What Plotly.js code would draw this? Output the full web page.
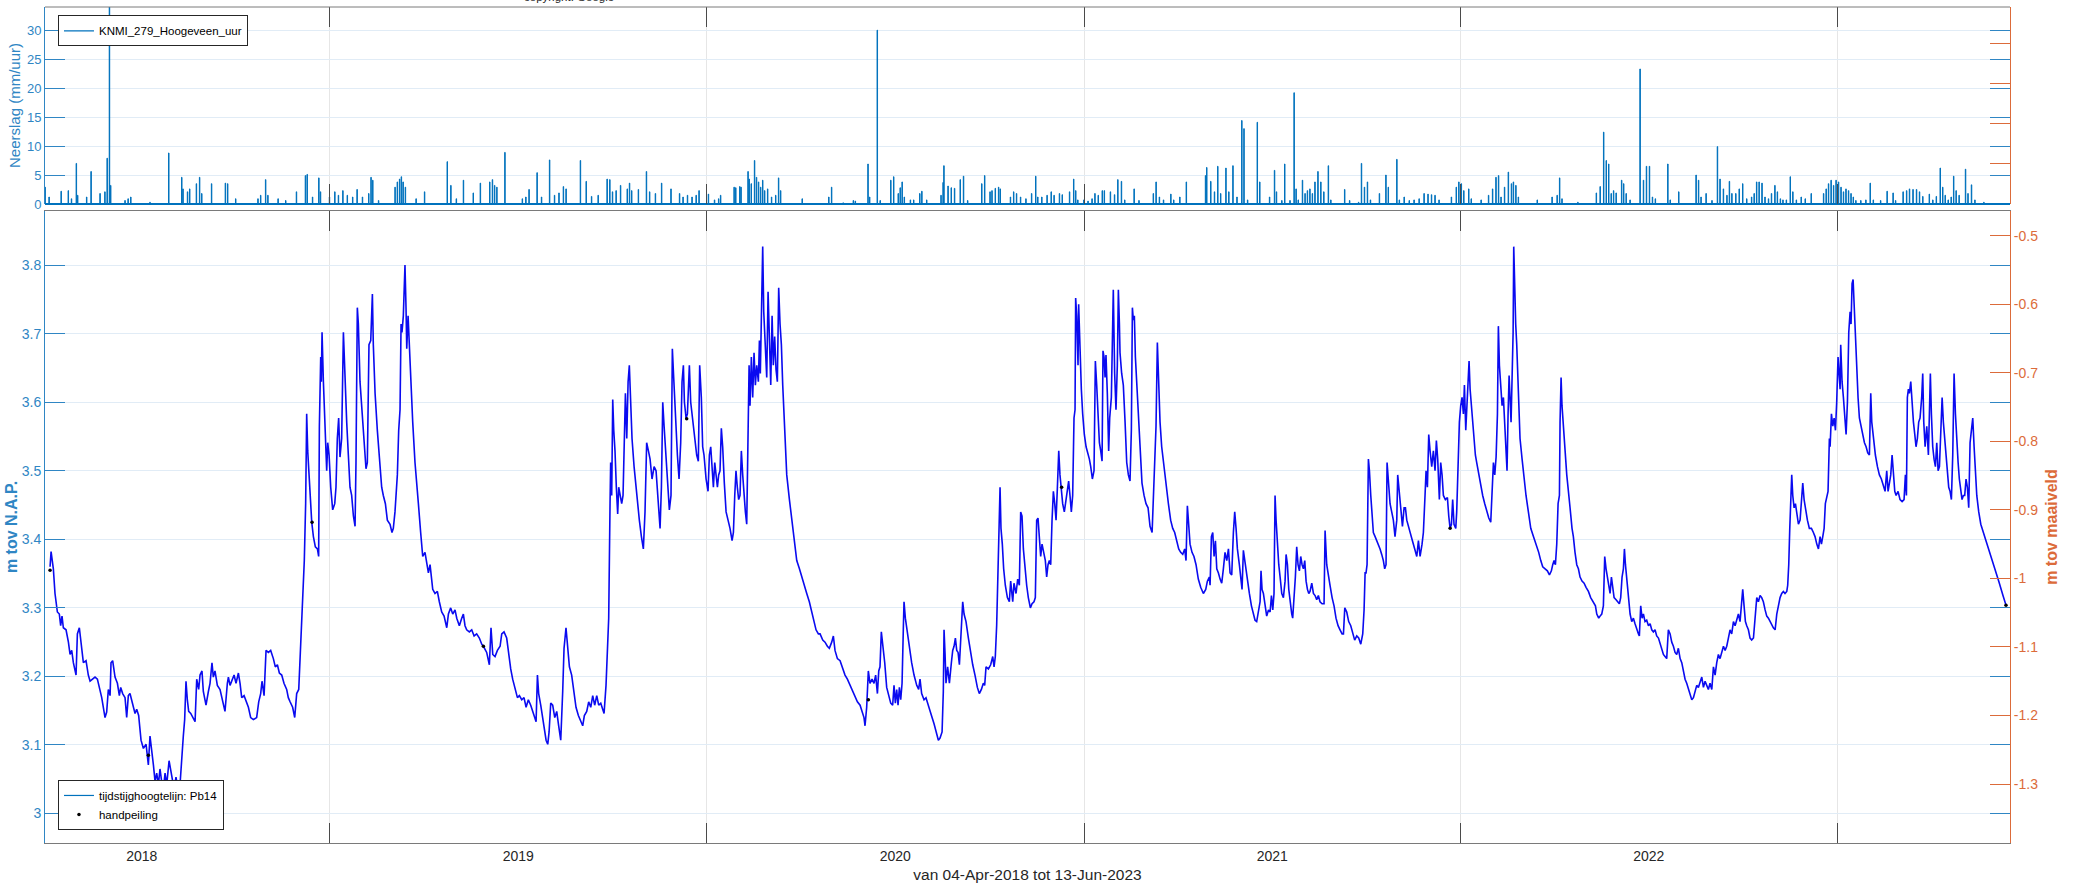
<!DOCTYPE html>
<html>
<head>
<meta charset="utf-8">
<script src="https://cdn.plot.ly/plotly-3.0.1.min.js"></script>
<style>
html,body{margin:0;padding:0;background:#ffffff;}
#chart{width:2078px;height:890px;}
</style>
</head>
<body>
<div id="chart"></div>
<script>
// ---------------- DATA ----------------
// days are counted from the series start date 04-Apr-2018
const seriesStart = '2018-04-04';
const seriesEndLabel = '13-Jun-2023';

// groundwater level (m tov N.A.P.)
const gwDayA = [0.6,1.6,3.8,5.4,7.7,9.6,10.9,12.2,13.5,16.1,
18.4,20.0,21.6,23.2,25.8,27.1,29.0,31.0,32.9,35.5,
37.7,39.4,42.0,44.2,46.5,48.4,50.7,53.9,55.5,57.1,
58.8,59.7,61.3,63.6,65.9,67.8,69.1,71.0,73.3,74.9,
76.5,78.1,80.7,83.0,84.6,86.5,88.8,91.1,93.7,95.9,
97.5,99.2,100.8,102.4,104.0,105.6,107.2,108.8,110.5,112.1,
113.7,116.0,118.5,120.8,122.7,125.0,126.6,128.2,129.8,131.1,
132.4,133.7,135.0,137.0,139.5,141.2,142.8,144.7,146.0,147.9,
149.2,151.8,154.1,155.7,157.6,158.9,160.5,162.8,165.4,168.0,
170.2,172.5,173.5,175.1,177.0,179.0,180.9,183.2,184.8,186.4,
188.7,190.6,192.9,195.1,197.7,200.9,202.9,204.8,206.1,208.1,
210.0,212.3,214.5,217.1,219.0,221.0,222.9,225.2,227.4,230.0,
231.6,233.3,235.8,237.8,239.7,241.7,242.9,244.2,245.5,247.1,
248.4,249.4,250.4,251.4,252.6,254.3,255.9,257.8,259.8,261.0,
261.7,263.0,263.6,264.3,265.6,267.2,268.8,269.8,271.1,272.7,
274.6,276.6,277.8,279.1,280.4,281.7,283.3,285.0,286.6,288.2,
289.8,291.4,293.0,294.7,296.3,297.2,298.5,299.5,301.1,302.7,
304.3,306.0,306.9,308.2,309.8,311.5,313.1,314.0,315.7,317.9,
319.9,322.1,323.7,325.7,327.6,330.2,332.1,333.4,335.0,336.0,
337.3,338.6,339.9,340.9,341.8,343.1,344.7,345.7,346.4,347.7,
348.9,350.2,352.2,354.4,356.0,357.7,359.9,361.9,364.1,365.7,
367.4];
const gwLevelA = [3.360,3.382,3.357,3.321,3.294,3.291,3.274,3.288,3.271,3.268,
3.250,3.232,3.238,3.220,3.202,3.262,3.271,3.244,3.220,3.223,
3.202,3.193,3.196,3.199,3.196,3.184,3.169,3.140,3.148,3.181,
3.172,3.220,3.223,3.199,3.190,3.172,3.184,3.175,3.169,3.140,
3.172,3.175,3.158,3.146,3.152,3.143,3.107,3.095,3.101,3.071,
3.113,3.095,3.071,3.047,3.059,3.042,3.065,3.047,3.036,3.059,
3.042,3.077,3.053,3.036,3.053,3.033,3.042,3.083,3.113,3.137,
3.193,3.166,3.149,3.146,3.140,3.134,3.196,3.181,3.202,3.208,
3.178,3.158,3.178,3.190,3.220,3.199,3.208,3.187,3.181,3.166,
3.149,3.190,3.199,3.187,3.196,3.202,3.190,3.205,3.190,3.169,
3.172,3.163,3.155,3.140,3.137,3.140,3.163,3.175,3.193,3.172,
3.238,3.235,3.238,3.226,3.214,3.217,3.205,3.202,3.190,3.181,
3.169,3.163,3.155,3.140,3.175,3.181,3.226,3.256,3.309,3.369,
3.452,3.583,3.529,3.500,3.455,3.425,3.404,3.389,3.386,3.375,
3.565,3.666,3.630,3.702,3.630,3.565,3.500,3.541,3.523,3.476,
3.443,3.452,3.476,3.547,3.577,3.520,3.547,3.702,3.630,3.571,
3.523,3.476,3.464,3.434,3.419,3.512,3.738,3.714,3.630,3.595,
3.547,3.523,3.503,3.512,3.684,3.690,3.758,3.684,3.613,3.559,
3.517,3.476,3.464,3.452,3.428,3.422,3.410,3.416,3.440,3.470,
3.494,3.559,3.589,3.714,3.702,3.726,3.800,3.738,3.678,3.726,
3.684,3.630,3.571,3.512,3.488,3.452,3.410,3.375,3.381,3.363,
3.351];

const gwDayB = [369.0,371.6,373.8,376.1,378.0,380.3,382.6,385.2,386.8,389.0,
391.0,393.2,394.9,397.4,399.7,401.3,402.9,404.5,407.1,409.4,
411.7,414.2,416.8,419.1,420.7,423.9,426.5,428.1,429.8,432.0,
434.3,436.9,438.5,440.7,443.3,445.3,447.2,449.1,451.4,453.7,
455.6,457.9,460.1,462.1,464.3,466.6,469.2,471.8,473.1,474.3,
476.3,478.2,479.8,481.5,483.1,484.4,486.0,487.9,489.9,491.8,
493.7,495.7,497.6,498.9,500.8,502.5,504.1,506.3,508.6,510.5,
512.8,515.1,517.0,518.6,520.9,522.8,524.8,526.7,528.6,530.6,
532.5,534.5,536.4,537.7,539.6,541.2,542.2,543.5,544.1,545.1,
546.1,547.1,548.3,549.6,550.9,551.9,553.2,554.8,556.1,557.4,
558.4,559.7,561.0,562.2,563.5,564.8,566.8,569.4,571.9,573.9,
575.8,577.4,579.0,580.7,582.3,584.2,586.2,588.1,590.0,592.0,
593.3,594.6,595.9,597.8,599.1,601.0,602.6,603.9,605.2,606.8,
608.8,610.4,612.0,613.3,614.6,615.6,617.2,618.5,619.4,620.4,
621.7,623.6,625.9,627.5,629.1,630.4,632.0,633.3,634.6,636.6,
638.5,639.8,641.1,642.4,643.7,645.0,646.3,647.6,648.8,650.1,
651.4,652.7,654.3,656.0,657.9,659.8,661.8,663.1,664.4,665.6,
666.9,668.2,669.5,670.8,672.1,673.4,674.7,676.0,677.0,678.3,
679.2,680.5,681.8,683.1,684.4,685.7,687.3,688.3,689.2,690.5,
691.5,692.5,693.8,695.4,696.7,698.0,699.3,700.6,701.8,703.1,
704.4,705.7,707.0,708.3,709.6,710.9,712.8,714.8,717.4,719.6,
721.9,724.5,727.1,729.3,731.6,734.2,736.7,739.0,741.3,743.2,
745.5];
const gwLevelB = [3.363,3.327,3.321,3.324,3.309,3.294,3.288,3.271,3.291,3.300,
3.291,3.297,3.285,3.274,3.285,3.291,3.274,3.268,3.265,3.268,
3.259,3.262,3.256,3.247,3.244,3.235,3.217,3.271,3.232,3.229,
3.238,3.244,3.262,3.265,3.256,3.232,3.211,3.196,3.184,3.169,
3.172,3.166,3.169,3.155,3.166,3.158,3.146,3.134,3.202,3.175,
3.158,3.137,3.119,3.107,3.101,3.119,3.161,3.158,3.140,3.149,
3.128,3.107,3.178,3.241,3.271,3.244,3.214,3.202,3.178,3.155,
3.143,3.134,3.128,3.143,3.149,3.163,3.155,3.172,3.158,3.172,
3.158,3.161,3.152,3.146,3.187,3.238,3.285,3.452,3.512,3.464,
3.604,3.559,3.529,3.476,3.437,3.476,3.464,3.452,3.464,3.547,
3.613,3.547,3.630,3.654,3.595,3.547,3.506,3.464,3.428,3.404,
3.386,3.440,3.541,3.529,3.517,3.488,3.506,3.500,3.464,3.416,
3.476,3.600,3.565,3.517,3.476,3.443,3.464,3.678,3.636,3.577,
3.523,3.488,3.541,3.630,3.654,3.600,3.577,3.583,3.619,3.654,
3.600,3.577,3.547,3.523,3.514,3.654,3.607,3.535,3.523,3.488,
3.470,3.523,3.535,3.500,3.476,3.512,3.494,3.476,3.494,3.500,
3.562,3.535,3.482,3.440,3.428,3.416,3.398,3.410,3.464,3.500,
3.476,3.458,3.464,3.529,3.494,3.458,3.440,3.422,3.523,3.654,
3.595,3.666,3.607,3.672,3.625,3.654,3.630,3.690,3.642,3.735,
3.827,3.732,3.684,3.636,3.761,3.672,3.625,3.726,3.654,3.696,
3.648,3.630,3.767,3.714,3.684,3.625,3.553,3.494,3.458,3.428,
3.398,3.369,3.357,3.345,3.333,3.321,3.309,3.294,3.280,3.268,
3.262];

const gwDayC = [747.1,749.7,751.9,754.2,756.1,758.4,760.0,761.6,763.9,766.5,
769.0,771.3,773.6,776.2,778.7,781.0,783.3,785.9,787.8,789.7,
790.7,792.3,793.9,795.5,797.5,799.4,801.0,802.7,804.0,805.2,
806.5,807.8,809.8,811.7,813.6,815.6,817.5,818.8,820.1,821.4,
822.7,824.0,825.3,826.6,827.9,828.5,829.8,831.7,833.7,835.9,
838.2,840.8,842.7,844.0,845.6,847.9,849.8,851.8,853.7,855.7,
857.6,859.5,861.8,863.4,865.4,866.6,867.3,868.3,869.2,870.8,
872.5,874.4,875.7,877.0,878.3,879.6,880.9,882.2,883.4,884.7,
885.4,886.7,888.6,890.9,893.1,895.1,897.3,899.6,901.5,903.5,
905.4,906.7,908.0,910.3,912.5,914.5,915.8,917.0,918.3,919.3,
920.6,921.6,922.5,923.8,925.1,926.7,928.7,930.6,931.9,933.9,
935.1,937.1,938.7,940.3,941.6,942.9,944.2,945.8,947.4,949.0,
951.0,952.6,954.5,955.8,957.1,958.4,959.7,961.0,962.3,964.2,
965.5,966.8,968.1,969.4,970.7,972.0,973.3,974.6,975.9,977.2,
978.5,979.7,981.0,982.3,983.9,985.6,986.8,988.1,989.4,990.7,
992.0,993.3,994.3,994.9,995.9,997.2,997.8,998.5,999.5,1000.4,
1001.7,1003.3,1005.0,1006.2,1008.2,1009.5,1011.1,1012.7,1014.0,1015.3,
1016.6,1017.9,1019.2,1020.5,1021.4,1022.4,1023.4,1024.3,1025.6,1026.9,
1027.9,1029.5,1030.8,1031.4,1032.7,1034.0,1035.3,1036.3,1037.3,1037.9,
1039.5,1041.1,1042.8,1044.4,1046.0,1047.6,1048.9,1049.9,1050.8,1051.8,
1052.8,1054.1,1055.7,1057.3,1059.2,1061.2,1063.1,1065.1,1067.0,1069.0,
1070.2,1071.5,1072.8,1074.1,1075.4,1076.7,1078.3,1080.0,1081.6,1083.2,
1084.8,1087.0,1089.0,1090.9,1092.9,1094.8,1096.7,1098.7,1100.6,1101.9,
1103.2,1104.5,1105.8,1107.7,1109.6,1111.6,1113.8,1116.1,1118.7,1121.0,
1122.6,1124.5];
const gwLevelC = [3.262,3.253,3.250,3.244,3.241,3.250,3.259,3.238,3.226,3.223,
3.211,3.202,3.196,3.187,3.178,3.172,3.163,3.158,3.149,3.140,
3.128,3.155,3.208,3.190,3.196,3.190,3.202,3.175,3.208,3.214,
3.265,3.250,3.220,3.184,3.172,3.161,3.158,3.187,3.161,3.181,
3.158,3.184,3.166,3.190,3.274,3.309,3.285,3.262,3.244,3.220,
3.202,3.187,3.181,3.196,3.175,3.166,3.169,3.158,3.149,3.140,
3.131,3.119,3.107,3.110,3.119,3.178,3.268,3.232,3.190,3.214,
3.190,3.220,3.238,3.244,3.256,3.238,3.235,3.217,3.250,3.294,
3.309,3.291,3.280,3.256,3.232,3.217,3.202,3.184,3.175,3.181,
3.190,3.187,3.214,3.211,3.217,3.229,3.214,3.229,3.274,3.333,
3.393,3.476,3.416,3.393,3.357,3.333,3.315,3.309,3.339,3.309,
3.336,3.321,3.342,3.333,3.440,3.434,3.386,3.357,3.333,3.315,
3.300,3.306,3.309,3.315,3.428,3.431,3.404,3.375,3.393,3.381,
3.369,3.345,3.363,3.369,3.363,3.428,3.470,3.452,3.428,3.476,
3.529,3.494,3.470,3.452,3.440,3.458,3.464,3.485,3.464,3.440,
3.464,3.577,3.589,3.752,3.726,3.654,3.743,3.702,3.654,3.619,
3.583,3.553,3.535,3.529,3.517,3.506,3.488,3.500,3.660,3.625,
3.583,3.541,3.529,3.514,3.675,3.666,3.636,3.669,3.613,3.529,
3.577,3.607,3.714,3.764,3.642,3.589,3.654,3.764,3.714,3.672,
3.642,3.625,3.571,3.512,3.494,3.485,3.559,3.738,3.720,3.726,
3.666,3.625,3.583,3.535,3.482,3.464,3.452,3.446,3.419,3.410,
3.464,3.512,3.565,3.687,3.630,3.571,3.535,3.512,3.500,3.476,
3.452,3.428,3.416,3.410,3.398,3.386,3.381,3.378,3.386,3.369,
3.449,3.422,3.393,3.381,3.375,3.363,3.342,3.330,3.321,3.327,
3.339,3.345];

const gwDayD = [1125.2,1126.5,1127.8,1129.1,1130.4,1131.7,1133.3,1134.9,1136.5,1138.1,
1139.7,1141.4,1143.0,1144.6,1146.2,1147.8,1149.1,1150.4,1151.7,1153.6,
1154.9,1156.2,1157.5,1158.8,1160.1,1161.4,1163.3,1165.3,1167.2,1168.8,
1170.4,1172.1,1173.7,1174.6,1175.6,1176.9,1178.5,1180.1,1181.8,1183.4,
1184.7,1186.0,1187.2,1188.2,1189.2,1190.5,1191.8,1193.1,1194.7,1196.3,
1197.9,1198.9,1200.2,1201.5,1202.8,1204.4,1205.3,1206.6,1207.9,1209.2,
1210.5,1211.8,1213.1,1214.4,1215.7,1217.0,1218.3,1219.6,1220.9,1222.1,
1223.8,1225.4,1227.0,1228.6,1230.2,1231.8,1233.8,1235.7,1236.7,1238.3,
1239.9,1241.5,1243.5,1245.4,1247.3,1249.3,1251.2,1253.2,1254.5,1255.8,
1257.7,1259.6,1261.6,1263.5,1265.4,1267.4,1269.3,1271.3,1273.2,1274.5,
1275.5,1276.4,1277.4,1278.7,1279.7,1281.0,1282.3,1283.5,1285.2,1286.8,
1288.4,1290.0,1291.6,1293.2,1294.5,1295.8,1296.8,1298.1,1299.7,1301.3,
1302.9,1304.5,1306.2,1307.1,1308.4,1310.0,1311.7,1313.3,1314.6,1315.9,
1317.8,1319.7,1321.7,1323.6,1325.6,1327.2,1328.8,1330.7,1332.0,1333.6,
1334.6,1335.9,1337.2,1338.5,1340.1,1341.7,1343.3,1344.6,1345.9,1347.5,
1348.8,1350.1,1351.4,1353.3,1355.3,1356.6,1357.9,1359.2,1360.4,1361.7,
1363.4,1364.3,1365.6,1366.9,1368.2,1369.5,1370.8,1371.8,1373.1,1374.0,
1375.3,1376.3,1377.3,1378.5,1379.8,1381.1,1382.4,1383.7,1385.7,1387.6,
1389.5,1391.5,1393.4,1395.4,1397.3,1398.6,1399.9,1401.2,1402.5,1403.8,
1404.7,1405.7,1407.0,1408.3,1409.6,1410.9,1412.2,1413.1,1414.1,1415.1,
1416.0,1417.0,1418.0,1419.0,1419.6,1420.6,1421.5,1422.5,1424.1,1425.7,
1427.7,1429.6,1431.5,1433.8,1436.1,1438.7,1441.2,1443.8,1445.8,1447.7,
1450.0,1452.2,1454.2,1456.1,1457.4,1458.7,1460.0,1461.3,1462.6,1463.9,
1464.5,1465.5,1466.4,1467.7,1469.4,1471.0,1472.6,1474.2,1476.1,1477.4,
1479.0,1480.7,1482.3,1483.9,1485.8,1487.8,1489.7,1492.0,1494.2,1496.8,
1498.8,1500.1,1502.0];
const gwLevelD = [3.333,3.404,3.410,3.375,3.398,3.357,3.351,3.342,3.336,3.357,
3.381,3.369,3.386,3.351,3.348,3.410,3.440,3.416,3.386,3.363,
3.345,3.327,3.384,3.369,3.357,3.339,3.321,3.303,3.291,3.282,
3.280,3.297,3.309,3.354,3.327,3.321,3.303,3.288,3.297,3.294,
3.318,3.297,3.321,3.464,3.428,3.393,3.363,3.345,3.321,3.315,
3.339,3.378,3.363,3.327,3.309,3.291,3.285,3.309,3.345,3.389,
3.363,3.354,3.375,3.363,3.357,3.369,3.339,3.327,3.321,3.324,
3.336,3.321,3.318,3.312,3.318,3.309,3.306,3.306,3.413,3.363,
3.345,3.333,3.315,3.303,3.285,3.274,3.268,3.262,3.262,3.300,
3.294,3.280,3.274,3.262,3.253,3.259,3.256,3.247,3.262,3.297,
3.351,3.351,3.363,3.517,3.500,3.464,3.428,3.410,3.404,3.398,
3.393,3.386,3.378,3.369,3.357,3.363,3.512,3.488,3.452,3.440,
3.428,3.404,3.428,3.494,3.470,3.452,3.419,3.446,3.446,3.428,
3.416,3.404,3.396,3.386,3.375,3.398,3.375,3.393,3.410,3.464,
3.500,3.476,3.553,3.529,3.506,3.529,3.500,3.544,3.517,3.458,
3.512,3.494,3.464,3.458,3.461,3.434,3.416,3.422,3.458,3.422,
3.416,3.440,3.523,3.571,3.595,3.607,3.583,3.625,3.559,3.589,
3.619,3.660,3.619,3.595,3.571,3.547,3.523,3.512,3.494,3.482,
3.464,3.452,3.440,3.431,3.425,3.464,3.512,3.494,3.520,3.583,
3.711,3.654,3.619,3.595,3.607,3.565,3.535,3.500,3.583,3.639,
3.607,3.571,3.636,3.702,3.827,3.761,3.714,3.684,3.613,3.547,
3.517,3.488,3.464,3.440,3.416,3.404,3.393,3.381,3.369,3.360,
3.357,3.354,3.348,3.354,3.363,3.369,3.363,3.393,3.452,3.464,
3.571,3.636,3.595,3.571,3.529,3.494,3.464,3.446,3.416,3.404,
3.381,3.363,3.357,3.345,3.339,3.336,3.330,3.324,3.315,3.309,
3.303,3.291,3.285];

const gwDayE = [1503.3,1504.9,1506.5,1507.8,1509.1,1510.4,1511.7,1513.0,1514.3,1515.6,
1516.9,1518.8,1520.8,1522.0,1523.3,1524.6,1525.9,1526.9,1527.9,1529.2,
1530.8,1532.4,1534.0,1535.6,1537.2,1538.8,1540.5,1541.4,1542.7,1544.0,
1545.3,1546.9,1548.5,1550.2,1551.8,1553.4,1555.0,1556.6,1558.2,1559.9,
1561.5,1563.1,1564.7,1566.3,1567.9,1569.5,1571.2,1572.8,1574.4,1576.0,
1577.6,1579.2,1580.9,1582.5,1584.1,1585.7,1587.3,1588.9,1590.6,1592.2,
1593.8,1595.4,1597.0,1598.6,1600.2,1601.9,1603.5,1605.1,1606.7,1608.3,
1609.9,1611.6,1613.2,1614.8,1616.4,1618.0,1619.6,1621.2,1622.9,1624.5,
1626.1,1627.7,1629.3,1630.9,1632.6,1634.2,1635.8,1637.4,1639.0,1640.6,
1641.6,1642.9,1644.2,1645.5,1647.1,1648.7,1650.3,1652.0,1653.6,1655.2,
1656.8,1658.4,1660.0,1661.6,1663.3,1664.9,1666.5,1668.1,1669.7,1671.3,
1673.0,1674.6,1676.2,1677.8,1679.4,1681.0,1682.6,1684.3,1685.2,1686.2,
1687.2,1688.1,1689.1,1690.1,1691.4,1692.7,1694.0,1695.6,1697.2,1698.5,
1699.8,1701.1,1702.7,1704.3,1706.2,1708.2,1710.1,1711.7,1713.4,1715.0,
1716.6,1717.9,1719.2,1720.5,1721.7,1723.0,1724.3,1725.6,1726.3,1727.6,
1728.9,1730.2,1731.5,1732.7,1734.0,1735.0,1736.0,1736.6,1737.9,1739.2,
1740.5,1741.8,1743.1,1744.4,1745.7,1746.6,1747.6,1748.6,1749.6,1750.8,
1752.1,1753.4,1754.7,1756.3,1757.9,1759.6,1761.2,1762.8,1764.4,1765.7,
1766.7,1768.3,1770.2,1772.2,1774.1,1776.0,1778.0,1779.6,1781.2,1782.5,
1783.8,1785.1,1786.4,1787.7,1789.0,1790.3,1792.2,1794.1,1796.1,1798.0,
1799.3,1800.3,1801.2,1802.2,1803.2,1804.5,1805.8,1807.1,1808.4,1809.6,
1810.9,1812.2,1813.5,1815.1,1816.1,1817.1,1818.4,1820.0,1821.6,1822.6,
1823.5,1824.5,1825.8,1827.1,1828.4,1829.7,1831.0,1832.3,1833.6,1834.9,
1836.1,1837.4,1838.7,1840.0,1841.3,1842.6,1843.9,1845.2,1846.5,1847.8,
1849.1,1850.4,1851.6,1852.9,1854.2,1855.5,1856.8,1858.1,1859.4,1860.7,
1862.0,1863.3,1864.6,1865.9,1867.2,1868.5,1870.4,1872.4,1874.9,1877.5,
1880.1,1882.7,1885.3,1887.8,1889.8,1893.9,1896.8];
const gwLevelE = [3.288,3.291,3.303,3.375,3.357,3.345,3.327,3.321,3.345,3.327,
3.315,3.312,3.309,3.306,3.315,3.345,3.357,3.386,3.363,3.345,
3.315,3.291,3.280,3.285,3.277,3.268,3.262,3.259,3.303,3.285,
3.291,3.280,3.282,3.274,3.277,3.268,3.265,3.268,3.259,3.256,
3.247,3.238,3.232,3.229,3.226,3.268,3.262,3.250,3.244,3.235,
3.232,3.241,3.226,3.220,3.208,3.196,3.190,3.181,3.175,3.166,
3.169,3.178,3.187,3.184,3.190,3.199,3.184,3.193,3.187,3.181,
3.190,3.181,3.214,3.202,3.220,3.232,3.226,3.235,3.244,3.238,
3.244,3.256,3.268,3.262,3.280,3.274,3.285,3.291,3.280,3.303,
3.327,3.303,3.280,3.274,3.268,3.256,3.253,3.256,3.291,3.315,
3.309,3.318,3.315,3.309,3.297,3.288,3.285,3.280,3.274,3.271,
3.268,3.291,3.303,3.315,3.321,3.324,3.321,3.324,3.333,3.363,
3.416,3.464,3.494,3.464,3.446,3.452,3.440,3.422,3.428,3.464,
3.482,3.458,3.440,3.428,3.416,3.416,3.410,3.404,3.393,3.386,
3.404,3.393,3.404,3.416,3.452,3.464,3.470,3.547,3.535,3.583,
3.565,3.577,3.559,3.600,3.666,3.642,3.619,3.684,3.630,3.607,
3.583,3.553,3.600,3.702,3.732,3.714,3.773,3.779,3.743,3.690,
3.642,3.607,3.577,3.565,3.556,3.541,3.535,3.526,3.523,3.613,
3.571,3.547,3.523,3.506,3.494,3.488,3.476,3.470,3.500,3.470,
3.482,3.494,3.523,3.494,3.470,3.464,3.470,3.458,3.455,3.458,
3.494,3.464,3.607,3.619,3.613,3.630,3.595,3.571,3.553,3.535,
3.547,3.571,3.577,3.607,3.642,3.571,3.535,3.565,3.523,3.595,
3.642,3.583,3.535,3.517,3.506,3.541,3.500,3.506,3.547,3.607,
3.571,3.547,3.523,3.500,3.476,3.470,3.458,3.523,3.642,3.583,
3.535,3.512,3.488,3.470,3.458,3.464,3.464,3.488,3.476,3.446,
3.541,3.559,3.577,3.535,3.494,3.464,3.440,3.422,3.410,3.398,
3.386,3.375,3.363,3.351,3.339,3.318,3.304];

// hand measurements (handpeiling)
const hpDay = [0.6, 95.9, 254.6, 420.7, 617.8, 793.9, 981.3, 1357.9, 1896.8];
const hpLevel = [3.355, 3.085, 3.425, 3.244, 3.576, 3.166, 3.476, 3.416, 3.304];

// hourly precipitation KNMI 279 Hoogeveen (mm/uur), showers
const rainDayA = [-4.2,-0.3,11.4,18.3,21.4,26.1,27.4,36.1,40.4,49.1,
53.8,56.0,58.2,59.4,73.3,76.3,78.9,97.5,115.7,128.3,
129.5,133.9,136.0,142.5,145.6,147.7,157.2,170.6,172.8,180.6,
202.2,204.8,209.6,211.8,221.7,229.1,239.5,248.2,249.9,255.1,
261.2,262.8,271.5,276.7,280.2,284.5,288.8,294.0,298.3,303.5,
309.6,311.8,313.5,319.1,335.1,337.3,339.5,341.2,342.9,345.1,
355.5,363.7,385.7,389.2,394.5,401.4,410.9,417.8,426.9,429.5,
431.6,433.8,441.6,458.5,461.9,465.0,472.8,477.1,484.9,489.7,
494.0,498.3,500.9,514.8,520.4,525.6,532.0,540.7,543.3,545.9,
549.4,553.7,560.2,562.4,564.5,571.0,578.8,581.9,587.5,593.5,
602.6,610.9,614.3,618.6];
const rainMmA = [2.9,1.2,2.2,2.3,0.9,7.0,1.5,1.2,5.6,1.8,
2.1,7.9,36,3.2,0.6,0.9,1.2,0.3,8.8,4.6,
2.6,2.1,2.6,3.5,4.6,1.8,3.5,3.6,3.5,0.9,
0.9,1.5,4.2,1.5,0.9,0.6,2.1,4.9,5.1,1.2,
4.5,2.1,1.2,2.1,1.5,2.3,1.5,1.2,2.5,1.2,
1.8,4.6,4.1,0.6,2.9,3.8,4.3,4.7,3.8,2.9,
0.9,2.1,7.3,3.2,0.9,4.1,1.9,3.6,3.8,4.2,
3.2,2.9,8.9,0.9,1.2,2.5,5.4,1.2,7.6,1.5,
1.9,3.0,2.6,7.5,3.9,1.3,1.5,4.3,4.2,2.1,
2.3,3.2,2.6,3.6,2.3,2.5,5.6,2.1,1.8,3.6,
2.6,1.8,1.2,1.5];
const rainDayB = [623.0,627.0,629.8,638.9,644.8,648.8,650.7,663.8,665.4,669.3,
670.5,677.3,678.4,680.4,683.6,685.5,687.5,689.5,691.5,693.4,
696.3,700.1,704.1,706.9,708.9,729.8,755.6,758.3,769.5,779.4,
781.3,793.6,795.2,802.6,805.4,815.7,818.5,822.9,824.8,826.7,
828.8,834.7,837.9,843.8,845.8,850.5,864.4,866.4,867.2,871.2,
874.3,877.5,883.0,886.2,890.2,903.9,906.7,911.9,913.8,917.0,
920.2,921.8,931.7,934.8,937.6,941.5,946.7,952.2,956.2,958.2,
962.1,967.2,971.2,974.0,979.2,981.9,989.0,993.0,995.0,997.0,
1002.9,1006.9,1010.8,1013.6,1016.8,1020.7,1022.7,1028.6,1032.6,1035.8,
1039.3,1042.5,1051.6,1056.3,1070.2,1072.9,1076.1,1080.1,1087.2,1090.0,
1095.9,1102.2,1120.8,1122.0,1125.9,1129.5,1132.7,1135.5,1140.6,1143.4,
1147.4,1151.3,1156.0,1158.1,1161.6,1171.0,1173.4,1182.9,1187.7,1189.6,
1194.8,1197.6,1202.7,1206.7,1208.6,1210.7];
const rainMmB = [1.2,1.5,2.3,1.7,0.7,0.9,1.5,2.9,2.8,3.0,
2.9,5.6,4.3,3.5,7.5,4.6,3.8,2.9,4.1,2.3,
2.6,1.2,1.5,4.5,2.3,0.9,1.2,2.9,0.2,0.6,
0.5,6.9,1.2,30.0,0.6,4.1,4.7,1.8,2.8,3.8,
1.2,0.7,0.7,1.8,2.2,0.7,1.5,3.7,6.6,3.1,
2.8,2.7,4.2,4.8,0.6,3.5,4.9,2.1,2.3,2.7,
2.9,2.6,1.2,2.1,1.8,1.2,0.9,1.8,4.8,1.2,
1.2,1.5,2.1,1.5,1.8,1.6,2.1,4.3,2.3,0.7,
0.7,0.5,0.9,1.8,1.5,2.3,2.3,2.1,1.6,4.2,
3.9,0.7,2.6,0.6,1.8,3.8,1.2,0.7,1.7,0.7,
1.2,3.8,4.9,6.3,3.9,2.1,6.5,1.8,6.2,2.1,
6.6,1.2,14.4,13.0,0.7,14.1,3.8,1.2,5.8,2.1,
0.6,6.9,0.6,19.2,2.6,0.7];
const rainDayC = [1214.8,1217.3,1219.6,1222.0,1224.4,1226.9,1229.8,1232.6,1235.5,1239.9,
1242.3,1255.7,1260.5,1269.2,1272.0,1274.9,1277.8,1280.7,1289.4,1295.7,
1298.0,1306.3,1308.7,1313.4,1318.3,1323.0,1327.9,1332.7,1336.5,1339.9,
1343.3,1347.2,1359.2,1363.9,1366.4,1368.8,1371.2,1376.0,1378.4,1388.0,
1395.2,1399.1,1402.4,1404.9,1407.3,1410.7,1414.4,1417.4,1419.3,1421.7,
1424.1,1442.4,1456.8,1461.7,1464.1,1466.4,1481.8,1499.7,1503.4,1506.8,
1509.3,1511.7,1514.1,1516.4,1518.9,1524.2,1526.2,1528.6,1532.4,1542.1,
1545.4,1548.3,1551.2,1554.1,1556.9,1569.0,1571.3,1579.6,1596.4,1598.8,
1601.2,1606.1,1611.8,1617.1,1619.6,1622.9,1626.3,1628.7,1631.1,1634.9,
1638.2,1641.6,1645.5,1650.2,1652.7,1655.1,1657.5,1660.3,1663.2,1666.6,
1669.5,1672.8,1675.2,1678.1,1680.6,1683.9,1687.7,1690.2,1693.6,1698.3,
1702.2,1708.0,1720.0,1722.5,1724.8,1727.3,1729.7,1732.1,1734.5,1736.9,
1739.3,1741.7,1744.2,1746.6,1748.8,1751.3,1756.1,1761.0,1765.2,1768.2,
1775.3,1781.6,1787.4,1789.8,1797.1,1800.5,1803.3,1806.7,1810.1,1813.0,
1816.2,1822.5,1825.9,1829.3,1833.1,1835.5,1837.9,1840.8,1843.7,1846.1,
1848.5,1851.4,1857.6,1860.0,1863.4,1866.7,1875.4];
const rainMmC = [4.1,1.8,2.3,2.6,1.8,3.8,5.6,3.8,2.1,6.6,
0.7,2.5,0.6,0.3,7.0,2.9,3.8,0.7,1.8,5.0,
2.9,7.7,0.7,1.2,0.6,0.7,0.9,1.8,1.7,1.6,
1.5,0.7,1.2,2.9,3.8,3.5,2.3,2.6,0.9,0.7,
1.5,2.6,4.6,4.9,1.2,2.9,5.5,3.5,3.8,3.2,
1.2,0.7,1.2,1.5,4.5,0.9,0.3,1.9,3.0,12.4,
7.5,6.9,1.8,2.3,1.9,4.1,3.5,1.8,0.7,23.3,
4.1,6.5,6.5,1.2,0.9,6.9,0.7,2.1,5.0,4.1,
1.2,1.8,0.6,9.9,4.3,2.6,1.5,3.9,1.8,1.8,
2.6,3.5,0.9,1.2,1.8,3.8,3.8,3.6,1.2,0.9,
1.8,3.2,2.1,0.9,0.7,0.7,4.7,2.1,0.7,1.2,
0.9,1.8,1.8,2.6,3.5,4.1,3.2,4.1,3.8,2.9,
2.1,2.6,2.3,1.8,1.2,0.6,0.6,0.7,3.6,0.7,
0.6,2.2,1.9,0.6,2.1,2.3,2.6,2.5,2.5,2.1,
1.3,1.7,0.7,1.3,6.2,2.9,1.5,0.7,1.2,4.8,
2.3,1.5,6.0,1.8,3.3,0.7,0.3];

// axes / labels
const groundLevelNAP = 4.343;            // maaiveld in m N.A.P.
const napRange = [2.957, 3.879];
const napTicks = [3.0, 3.1, 3.2, 3.3, 3.4, 3.5, 3.6, 3.7, 3.8];
const maaiveldTicks = [-1.3, -1.2, -1.1, -1.0, -0.9, -0.8, -0.7, -0.6, -0.5];
const rainRange = [0, 34];
const rainTicks = [0, 5, 10, 15, 20, 25, 30];
const rainRightTicks = [0.2, 0.4, 0.6, 0.8];
const xRange = ['2018-03-30 17:00', '2023-06-17 17:00'];

// ---------------- BUILD ----------------
const DAY_MS = 86400000;
const T0 = Date.parse(seriesStart + 'T00:00:00Z');
function dayToDate(d) {
  return new Date(T0 + d * DAY_MS).toISOString().slice(0, 19).replace('T', ' ');
}
function pairUp(days, vals) {
  const n = Math.min(days.length, vals.length);
  if (days.length !== vals.length) console.warn('length mismatch', days.length, vals.length);
  return {x: days.slice(0, n).map(dayToDate), y: vals.slice(0, n)};
}
const gw = [pairUp(gwDayA, gwLevelA), pairUp(gwDayB, gwLevelB), pairUp(gwDayC, gwLevelC),
            pairUp(gwDayD, gwLevelD), pairUp(gwDayE, gwLevelE)];
const gwX = [].concat(...gw.map(s => s.x));
const gwY = [].concat(...gw.map(s => s.y));
const rain = [pairUp(rainDayA, rainMmA), pairUp(rainDayB, rainMmB), pairUp(rainDayC, rainMmC)];
const rainX = [].concat(...rain.map(s => s.x));
const rainY = [].concat(...rain.map(s => s.y));
const hp = pairUp(hpDay, hpLevel);

const FONT = 'Liberation Sans, Arial, Helvetica, sans-serif';
const BLUE_AX = '#2f86c4';
const RAIN_BLUE = '#0072bd';
const ORANGE = '#dc6b3a';
const LINE_GRAY = '#7a7a7a';
const TICK_GRAY = '#4a4a4a';
const HGRID = '#e1ecf6';
const VGRID = '#e6e6e6';

const traces = [
  { // precipitation
    type: 'bar', x: rainX, y: rainY, xaxis: 'x2', yaxis: 'y3',
    width: 0.45 * DAY_MS,
    marker: {color: RAIN_BLUE, line: {color: RAIN_BLUE, width: 1}},
    showlegend: false, hoverinfo: 'skip'
  },
  { // legend entry for precipitation (line symbol as in the original)
    type: 'scatter', mode: 'lines', x: [null], y: [null], xaxis: 'x2', yaxis: 'y3',
    name: 'KNMI_279_Hoogeveen_uur', line: {color: RAIN_BLUE, width: 1.2},
    legend: 'legend', hoverinfo: 'skip'
  },
  { // groundwater level
    type: 'scatter', mode: 'lines', x: gwX, y: gwY, xaxis: 'x', yaxis: 'y',
    line: {color: '#0a0af0', width: 1.6}, showlegend: false, hoverinfo: 'skip'
  },
  { // legend entry for groundwater
    type: 'scatter', mode: 'lines', x: [null], y: [null], xaxis: 'x', yaxis: 'y',
    name: 'tijdstijghoogtelijn: Pb14', line: {color: RAIN_BLUE, width: 1.2},
    legend: 'legend2', hoverinfo: 'skip'
  },
  { // hand measurements
    type: 'scatter', mode: 'markers', x: hp.x, y: hp.y, xaxis: 'x', yaxis: 'y',
    name: 'handpeiling', marker: {color: '#000000', size: 3.5},
    legend: 'legend2', hoverinfo: 'skip'
  },
  { // empty series that activates the right-hand maaiveld axis
    type: 'scatter', mode: 'lines', x: [null], y: [null], xaxis: 'x', yaxis: 'y2',
    showlegend: false, hoverinfo: 'skip'
  },
  { // empty series that activates the right-hand axis of the rain panel
    type: 'scatter', mode: 'lines', x: [null], y: [null], xaxis: 'x2', yaxis: 'y4',
    showlegend: false, hoverinfo: 'skip'
  }
];

const xCommon = {
  type: 'date', range: xRange, tick0: '2018-01-01', dtick: 'M12',
  ticks: 'inside', ticklen: 20, tickwidth: 1, tickcolor: TICK_GRAY,
  showgrid: true, gridcolor: VGRID, gridwidth: 1, zeroline: false
};

const layout = {
  width: 2078, height: 890,
  margin: {l: 45, r: 68, t: 7, b: 47, pad: 0},
  paper_bgcolor: '#ffffff', plot_bgcolor: '#ffffff',
  font: {family: FONT, size: 14, color: '#262626'},
  hovermode: false,
  showlegend: true,
  xaxis: Object.assign({}, xCommon, {
    domain: [0, 1], anchor: 'y',
    ticklabelmode: 'period', tickformat: '%Y',
    showline: true, linecolor: LINE_GRAY, linewidth: 1, mirror: 'ticks',
    tickfont: {family: FONT, size: 14, color: '#262626'},
    title: {text: 'van ' + '04-Apr-2018' + ' tot ' + seriesEndLabel,
            font: {family: FONT, size: 15.5, color: '#262626'}, standoff: 6}
  }),
  xaxis2: Object.assign({}, xCommon, {
    domain: [0, 1], anchor: 'y3', matches: 'x',
    showticklabels: false, showline: false, mirror: 'ticks'
  }),
  yaxis: {
    domain: [0, 0.756], anchor: 'x', range: napRange,
    tickmode: 'array', tickvals: napTicks,
    ticks: 'inside', ticklen: 20, tickwidth: 1, tickcolor: BLUE_AX,
    showline: true, linecolor: BLUE_AX, linewidth: 1, mirror: 'ticks',
    showgrid: true, gridcolor: HGRID, zeroline: false,
    tickfont: {family: FONT, size: 14, color: BLUE_AX},
    title: {text: '<b>m tov N.A.P.</b>', font: {family: FONT, size: 16, color: BLUE_AX}, standoff: 0}
  },
  yaxis2: {
    overlaying: 'y', anchor: 'x', side: 'right',
    range: napRange.map(v => v - groundLevelNAP),
    tickmode: 'array', tickvals: maaiveldTicks, ticktext: maaiveldTicks.map(v => String(v)),
    ticks: 'inside', ticklen: 20, tickwidth: 1, tickcolor: ORANGE,
    showline: true, linecolor: ORANGE, linewidth: 1,
    showgrid: false, zeroline: false,
    tickfont: {family: FONT, size: 14, color: ORANGE},
    title: {text: '<b>m tov maaiveld</b>', font: {family: FONT, size: 16, color: ORANGE}, standoff: 8}
  },
  yaxis3: {
    domain: [0.7644, 1], anchor: 'x2', range: rainRange,
    tickmode: 'array', tickvals: rainTicks,
    ticks: 'inside', ticklen: 20, tickwidth: 1, tickcolor: BLUE_AX,
    showline: true, linecolor: BLUE_AX, linewidth: 1, mirror: 'ticks',
    showgrid: true, gridcolor: HGRID,
    zeroline: true, zerolinecolor: RAIN_BLUE, zerolinewidth: 1.5,
    tickfont: {family: FONT, size: 13, color: BLUE_AX},
    title: {text: 'Neerslag (mm/uur)', font: {family: FONT, size: 15, color: BLUE_AX}, standoff: 2}
  },
  yaxis4: {
    overlaying: 'y3', anchor: 'x2', side: 'right', range: [0, 0.985],
    tickmode: 'array', tickvals: rainRightTicks, showticklabels: false,
    ticks: 'inside', ticklen: 20, tickwidth: 1, tickcolor: ORANGE,
    showline: true, linecolor: ORANGE, linewidth: 1,
    showgrid: false, zeroline: false
  },
  legend: {
    x: 0.0066, y: 0.990, xanchor: 'left', yanchor: 'top',
    bgcolor: '#ffffff', bordercolor: '#262626', borderwidth: 1,
    font: {family: FONT, size: 11.5, color: '#000000'},
    itemwidth: 30, tracegroupgap: 0
  },
  legend2: {
    x: 0.0066, y: 0.0156, xanchor: 'left', yanchor: 'bottom',
    bgcolor: '#ffffff', bordercolor: '#262626', borderwidth: 1,
    font: {family: FONT, size: 11.5, color: '#000000'},
    itemwidth: 30, tracegroupgap: 0
  },
  shapes: [
    {type: 'line', xref: 'paper', yref: 'paper', x0: 0, x1: 1, y0: 1, y1: 1,
     line: {color: LINE_GRAY, width: 1}, layer: 'above'}
  ],
  annotations: [
    {xref: 'paper', yref: 'paper', x: 0.2667, y: 1.012, xanchor: 'center', yanchor: 'middle',
     text: 'copyright: Google', showarrow: false,
     font: {family: FONT, size: 11.5, color: '#262626'}}
  ]
};

Plotly.newPlot('chart', traces, layout, {staticPlot: true, displayModeBar: false});
</script>
</body>
</html>
